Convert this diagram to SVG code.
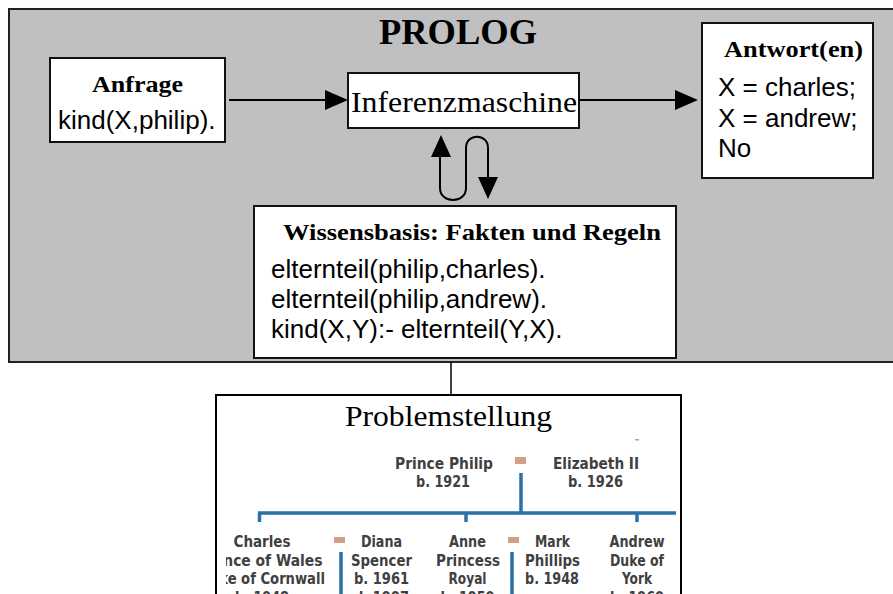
<svg xmlns="http://www.w3.org/2000/svg" width="893" height="594" viewBox="0 0 893 594">
<defs>
<style>
.box{fill:#ffffff;stroke:#111111;stroke-width:2}
.serifb{font-family:"Liberation Serif","Times New Roman",serif;font-weight:bold;fill:#000}
.serif{font-family:"Liberation Serif","Times New Roman",serif;fill:#000}
.sans{font-family:"Liberation Sans",Arial,sans-serif;font-size:26px;fill:#000}
.con{fill:none;stroke:#000;stroke-width:2}
.head{fill:#000;stroke:none}
.tree{font-family:"DejaVu Sans Condensed","Liberation Sans",sans-serif;font-weight:bold;font-size:16px;fill:#404040;text-anchor:middle}
.blue{stroke:#2a72a6;stroke-width:3.5;fill:none}
.tan{fill:#d49f87}
</style>
<clipPath id="treeclip"><rect x="226" y="430" width="450" height="164"/></clipPath>
</defs>

<g id="prolog">
<rect x="9" y="9" width="900" height="353" fill="#c0c0c0" stroke="#222" stroke-width="2"/>
<text class="serifb" x="379" y="44" font-size="36" textLength="158" lengthAdjust="spacingAndGlyphs">PROLOG</text>
</g>

<g id="anfrage">
<rect class="box" x="50" y="58" width="175" height="84"/>
<text class="serifb" x="92" y="92" font-size="23" textLength="91" lengthAdjust="spacingAndGlyphs">Anfrage</text>
<text class="sans" x="58" y="129">kind(X,philip).</text>
</g>

<g id="inferenzmaschine">
<rect class="box" x="348" y="73" width="231" height="55"/>
<text class="serif" x="351" y="112" font-size="30" textLength="226" lengthAdjust="spacingAndGlyphs">Inferenzmaschine</text>
</g>

<g id="antwort">
<rect class="box" x="702" y="23" width="171" height="155"/>
<text class="serifb" x="724" y="57" font-size="24" textLength="139" lengthAdjust="spacingAndGlyphs">Antwort(en)</text>
<text class="sans" x="718" y="96">X = charles;</text>
<text class="sans" x="718" y="127">X = andrew;</text>
<text class="sans" x="718" y="157">No</text>
</g>

<g id="wissensbasis">
<rect class="box" x="254" y="206" width="422" height="152"/>
<text class="serifb" x="283" y="240" font-size="24" textLength="378" lengthAdjust="spacingAndGlyphs">Wissensbasis: Fakten und Regeln</text>
<text class="sans" x="271" y="278">elternteil(philip,charles).</text>
<text class="sans" x="271" y="308">elternteil(philip,andrew).</text>
<text class="sans" x="271" y="338">kind(X,Y):- elternteil(Y,X).</text>
</g>

<g id="connectors">
<line class="con" x1="229" y1="100" x2="326" y2="100"/>
<polygon class="head" points="325,90 348,100 325,110"/>
<line class="con" x1="579" y1="100" x2="676" y2="100"/>
<polygon class="head" points="675,90 698,100 675,110"/>
<path class="con" d="M 440 156 L 440 188 C 440 204 466 204 466 188 L 466 148 C 466 133 488 133 488 148 L 488 178"/>
<polygon class="head" points="441,135 431,157 451,157"/>
<polygon class="head" points="488,199 478,177 498,177"/>
<line x1="451" y1="362" x2="451" y2="395" stroke="#000" stroke-width="1.5"/>
</g>

<g id="problemstellung">
<rect x="216" y="395" width="465" height="220" fill="#fff" stroke="#000" stroke-width="2"/>
<text class="serif" x="345" y="426" font-size="30" textLength="207" lengthAdjust="spacingAndGlyphs">Problemstellung</text>
<g clip-path="url(#treeclip)">
<rect x="635" y="439" width="4" height="1.5" fill="#7fb0d4"/>
<text class="tree" x="444" y="469" textLength="98" lengthAdjust="spacingAndGlyphs">Prince Philip</text>
<text class="tree" x="443" y="487" textLength="54" lengthAdjust="spacingAndGlyphs">b. 1921</text>
<rect class="tan" x="515" y="457" width="11" height="7"/>
<text class="tree" x="596" y="469" textLength="86" lengthAdjust="spacingAndGlyphs">Elizabeth II</text>
<text class="tree" x="595.5" y="487" textLength="55" lengthAdjust="spacingAndGlyphs">b. 1926</text>
<path class="blue" d="M 521 473 L 521 513 M 258 513 L 680 513 M 259.5 513 L 259.5 522 M 466 513 L 466 522 M 637 513 L 637 522"/>
<text class="tree" x="262" y="547" textLength="57" lengthAdjust="spacingAndGlyphs">Charles</text>
<text class="tree" x="262" y="566" textLength="121" lengthAdjust="spacingAndGlyphs">Prince of Wales</text>
<text class="tree" x="262" y="584" textLength="126" lengthAdjust="spacingAndGlyphs">Duke of Cornwall</text>
<text class="tree" x="262" y="603" textLength="54" lengthAdjust="spacingAndGlyphs">b. 1948</text>
<rect class="tan" x="334" y="537" width="11" height="6"/>
<path class="blue" d="M 341 552 L 341 600 M 512 552 L 512 600"/>
<text class="tree" x="381.5" y="547" textLength="41" lengthAdjust="spacingAndGlyphs">Diana</text>
<text class="tree" x="381.5" y="566" textLength="61" lengthAdjust="spacingAndGlyphs">Spencer</text>
<text class="tree" x="381.5" y="584" textLength="55" lengthAdjust="spacingAndGlyphs">b. 1961</text>
<text class="tree" x="381.5" y="603" textLength="55" lengthAdjust="spacingAndGlyphs">d. 1997</text>
<text class="tree" x="467.5" y="547" textLength="37" lengthAdjust="spacingAndGlyphs">Anne</text>
<text class="tree" x="468" y="566" textLength="64" lengthAdjust="spacingAndGlyphs">Princess</text>
<text class="tree" x="467.5" y="584" textLength="38" lengthAdjust="spacingAndGlyphs">Royal</text>
<text class="tree" x="467.5" y="603" textLength="54" lengthAdjust="spacingAndGlyphs">b. 1950</text>
<rect class="tan" x="508" y="537" width="11" height="6"/>
<text class="tree" x="552.5" y="547" textLength="35" lengthAdjust="spacingAndGlyphs">Mark</text>
<text class="tree" x="552.5" y="566" textLength="55" lengthAdjust="spacingAndGlyphs">Phillips</text>
<text class="tree" x="552" y="584" textLength="54" lengthAdjust="spacingAndGlyphs">b. 1948</text>
<text class="tree" x="637" y="547" textLength="55" lengthAdjust="spacingAndGlyphs">Andrew</text>
<text class="tree" x="637" y="566" textLength="54" lengthAdjust="spacingAndGlyphs">Duke of</text>
<text class="tree" x="637" y="584" textLength="30" lengthAdjust="spacingAndGlyphs">York</text>
<text class="tree" x="637" y="603" textLength="54" lengthAdjust="spacingAndGlyphs">b. 1960</text>
</g>
</g>
</svg>
